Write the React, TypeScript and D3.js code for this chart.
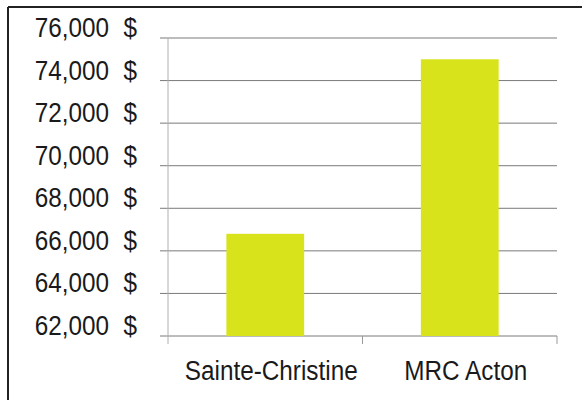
import * as d3 from 'd3';

const categories = ['Sainte-Christine', 'MRC Acton'];
const values = [66800, 75000];
const yTicks = [62000, 64000, 66000, 68000, 70000, 72000, 74000, 76000];

const W = 582;
const H = 400;
const FONT = '"Liberation Sans", Arial, sans-serif';
const BAR = '#d8e31b';
const SQUEEZE = 0.9;

function Label({ x, y, anchor, children }: { x: number; y: number; anchor: string; children: any }) {
  return (
    <text
      transform={`translate(${x},${y}) scale(${SQUEEZE},1)`}
      textAnchor={anchor}
      fontFamily={FONT}
      fontSize={27}
      fill="#1a1a1a"
    >
      {children}
    </text>
  );
}

export default function App() {
  const x = d3.scaleBand<string>().domain(categories).range([168, 557]).padding(0);
  const y = d3.scaleLinear().domain([62000, 76000]).range([336, 38]);
  const barW = x.bandwidth() * 0.4;
  const fmt = d3.format(',');
  const bandEnds = categories.map(c => (x(c) as number) + x.bandwidth());

  return (
    <svg
      width={W}
      height={H}
      style={{ position: 'absolute', left: 0, top: 0, background: '#fff' }}
    >
      {/* frame */}
      <line x1={8} x2={W} y1={7} y2={7} stroke="#222" strokeWidth={2} />
      <line x1={8} x2={8} y1={7} y2={H} stroke="#222" strokeWidth={2} />

      {/* gridlines and labels */}
      {yTicks.map(t => (
        <g key={t}>
          <line x1={160} x2={557} y1={y(t)} y2={y(t)} stroke="#7a7a7a" strokeWidth={1} />
          <Label x={109} y={y(t) - 1} anchor="end">{fmt(t)}</Label>
          <Label x={137} y={y(t) - 1} anchor="end">$</Label>
        </g>
      ))}

      {/* axes */}
      <line x1={168} x2={168} y1={y(76000)} y2={344} stroke="#b0b0b0" strokeWidth={1} />
      {bandEnds.map((e, i) => (
        <line key={i} x1={e} x2={e} y1={y(62000)} y2={344} stroke="#9a9a9a" strokeWidth={1} />
      ))}

      {/* bars */}
      {categories.map((c, i) => (
        <rect
          key={c}
          x={(x(c) as number) + (x.bandwidth() - barW) / 2}
          y={y(values[i])}
          width={barW}
          height={y(62000) - y(values[i])}
          fill={BAR}
        />
      ))}

      {/* category labels */}
      {categories.map(c => (
        <Label key={c} x={(x(c) as number) + x.bandwidth() / 2 + 6} y={380} anchor="middle">
          {c}
        </Label>
      ))}
    </svg>
  );
}
